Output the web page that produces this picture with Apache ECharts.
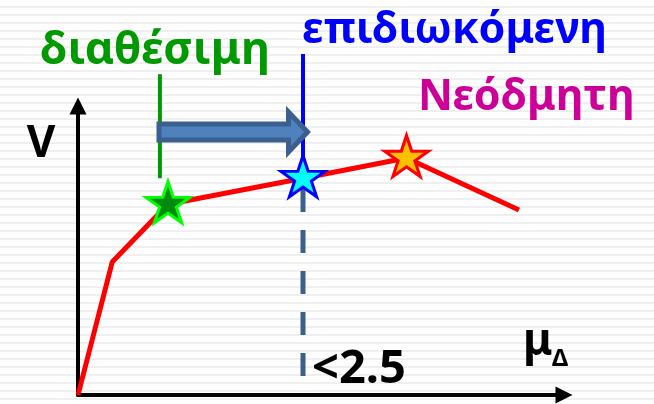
<!DOCTYPE html>
<html>
<head>
<meta charset="utf-8">
<script src="https://cdn.jsdelivr.net/npm/echarts@6/dist/echarts.min.js"></script>
<style>
  html, body { margin: 0; padding: 0; background: #fff; }
  #chart {
    width: 654px;
    height: 404px;
    background: repeating-linear-gradient(to bottom, #ffffff 0px, #ffffff 6px, #efefef 6px, #efefef 8px);
  }
</style>
</head>
<body>
<div id="chart"></div>
<script>
// capacity curve V - μΔ
const curveX = [0, 0.38, 1.0, 2.5, 3.65, 4.9];
const curveV = [0, 46, 66, 75, 82, 64];

// stars: available / target / new-build
const starNames = ['διαθέσιμη', 'επιδιωκόμενη', 'Νεόδμητη'];
const starX = [1.0, 2.5, 3.65];
const starV = [66, 75, 82];

// vertical marker lines [x, vTop, vBottom]
const availLine = [0.91, 111, 75];
const targetLine = [2.5, 118, 77];
const ductLine = [2.5, 71.3, 6.2];

// horizontal arrow [xFrom, xTo, v]
const shiftArrow = [0.9, 2.55, 91];

const ductLabel = '<2.5';

const STAR = 'path://M0,-1 L0.2245,-0.309 L0.951,-0.309 L0.363,0.118 L0.588,0.809 L0,0.382 L-0.588,0.809 L-0.363,0.118 L-0.951,-0.309 L-0.2245,-0.309 Z';
const starStyles = [
    { color: '#008a10', borderColor: '#00ff00' },
    { color: '#00ffff', borderColor: '#0000ff' },
    { color: '#ffc000', borderColor: '#ff0000' },
];
const FONT = '"Noto Sans", "DejaVu Sans", sans-serif';

const chart = echarts.init(document.getElementById('chart'));

const axisLine = {
    show: true,
    symbol: ['none', 'triangle'],
    symbolSize: [17, 17],
    lineStyle: { color: '#000', width: 4 },
};

const vLine = (arr, style) => ({
    type: 'line',
    clip: false,
    symbol: 'none',
    silent: true,
    lineStyle: style,
    data: [[arr[0], arr[1]], [arr[0], arr[2]]],
    z: 3,
});

const option = {
    animation: false,
    backgroundColor: 'transparent',
    grid: { left: 78, top: 106, width: 486, height: 289 },
    xAxis: {
        type: 'value',
        min: 0,
        max: 5.4,
        axisLine: axisLine,
        axisTick: { show: false },
        axisLabel: { show: false },
        splitLine: { show: false },
    },
    yAxis: {
        type: 'value',
        min: 0,
        max: 100,
        axisLine: axisLine,
        axisTick: { show: false },
        axisLabel: { show: false },
        splitLine: { show: false },
    },
    series: [
        vLine(ductLine, { color: '#3a6090', width: 5, type: [23, 18] }),
        vLine(availLine, { color: '#009900', width: 4 }),
        vLine(targetLine, { color: '#0000ff', width: 4 }),
        {
            type: 'custom',
            clip: false,
            silent: true,
            z: 4,
            data: [shiftArrow],
            renderItem: (params, api) => {
                const p0 = api.coord([api.value(0), api.value(2)]);
                const p1 = api.coord([api.value(1), api.value(2)]);
                const sh = 8, hh = 20, hl = 19;
                const y = p0[1];
                return {
                    type: 'polygon',
                    shape: {
                        points: [
                            [p0[0], y - sh], [p1[0] - hl, y - sh], [p1[0] - hl, y - hh],
                            [p1[0], y], [p1[0] - hl, y + hh], [p1[0] - hl, y + sh], [p0[0], y + sh],
                        ],
                    },
                    style: { fill: '#4f81bd', stroke: '#3a6090', lineWidth: 5, lineJoin: 'miter' },
                };
            },
        },
        {
            type: 'line',
            symbol: 'none',
            silent: true,
            lineStyle: { color: '#ff0000', width: 5 },
            data: curveX.map((x, i) => [x, curveV[i]]),
            z: 5,
        },
        {
            type: 'scatter',
            symbol: STAR,
            symbolSize: [44, 41],
            symbolOffset: [0, -2],
            silent: true,
            z: 6,
            data: starX.map((x, i) => ({
                name: starNames[i],
                value: [x, starV[i]],
                itemStyle: {
                    color: starStyles[i].color,
                    borderColor: starStyles[i].borderColor,
                    borderWidth: 3,
                    opacity: 1,
                },
            })),
        },
    ],
    graphic: [
        { type: 'text', x: 155, y: 51, style: { text: starNames[0], fill: '#009900', font: 'bold 45px ' + FONT, align: 'center', verticalAlign: 'middle' } },
        { type: 'text', x: 302, y: 31, style: { text: starNames[1], fill: '#0000ff', font: 'bold 43px ' + FONT, align: 'left', verticalAlign: 'middle' } },
        { type: 'text', x: 418, y: 98, style: { text: starNames[2], fill: '#cc0099', font: 'bold 43px ' + FONT, align: 'left', verticalAlign: 'middle' } },
        { type: 'text', x: 41, y: 144, style: { text: 'V', fill: '#000', font: 'bold 44px ' + FONT, align: 'center', verticalAlign: 'middle' } },
        { type: 'text', x: 523, y: 342, style: { text: 'μ', fill: '#000', font: 'bold 44px ' + FONT, align: 'left', verticalAlign: 'middle' } },
        { type: 'text', x: 552, y: 359, style: { text: 'Δ', fill: '#000', font: 'bold 24px ' + FONT, align: 'left', verticalAlign: 'middle' } },
        { type: 'text', x: 312, y: 370, style: { text: ductLabel, fill: '#000', font: 'bold 47px ' + FONT, align: 'left', verticalAlign: 'middle' } },
    ],
};

chart.setOption(option);
</script>
</body>
</html>
